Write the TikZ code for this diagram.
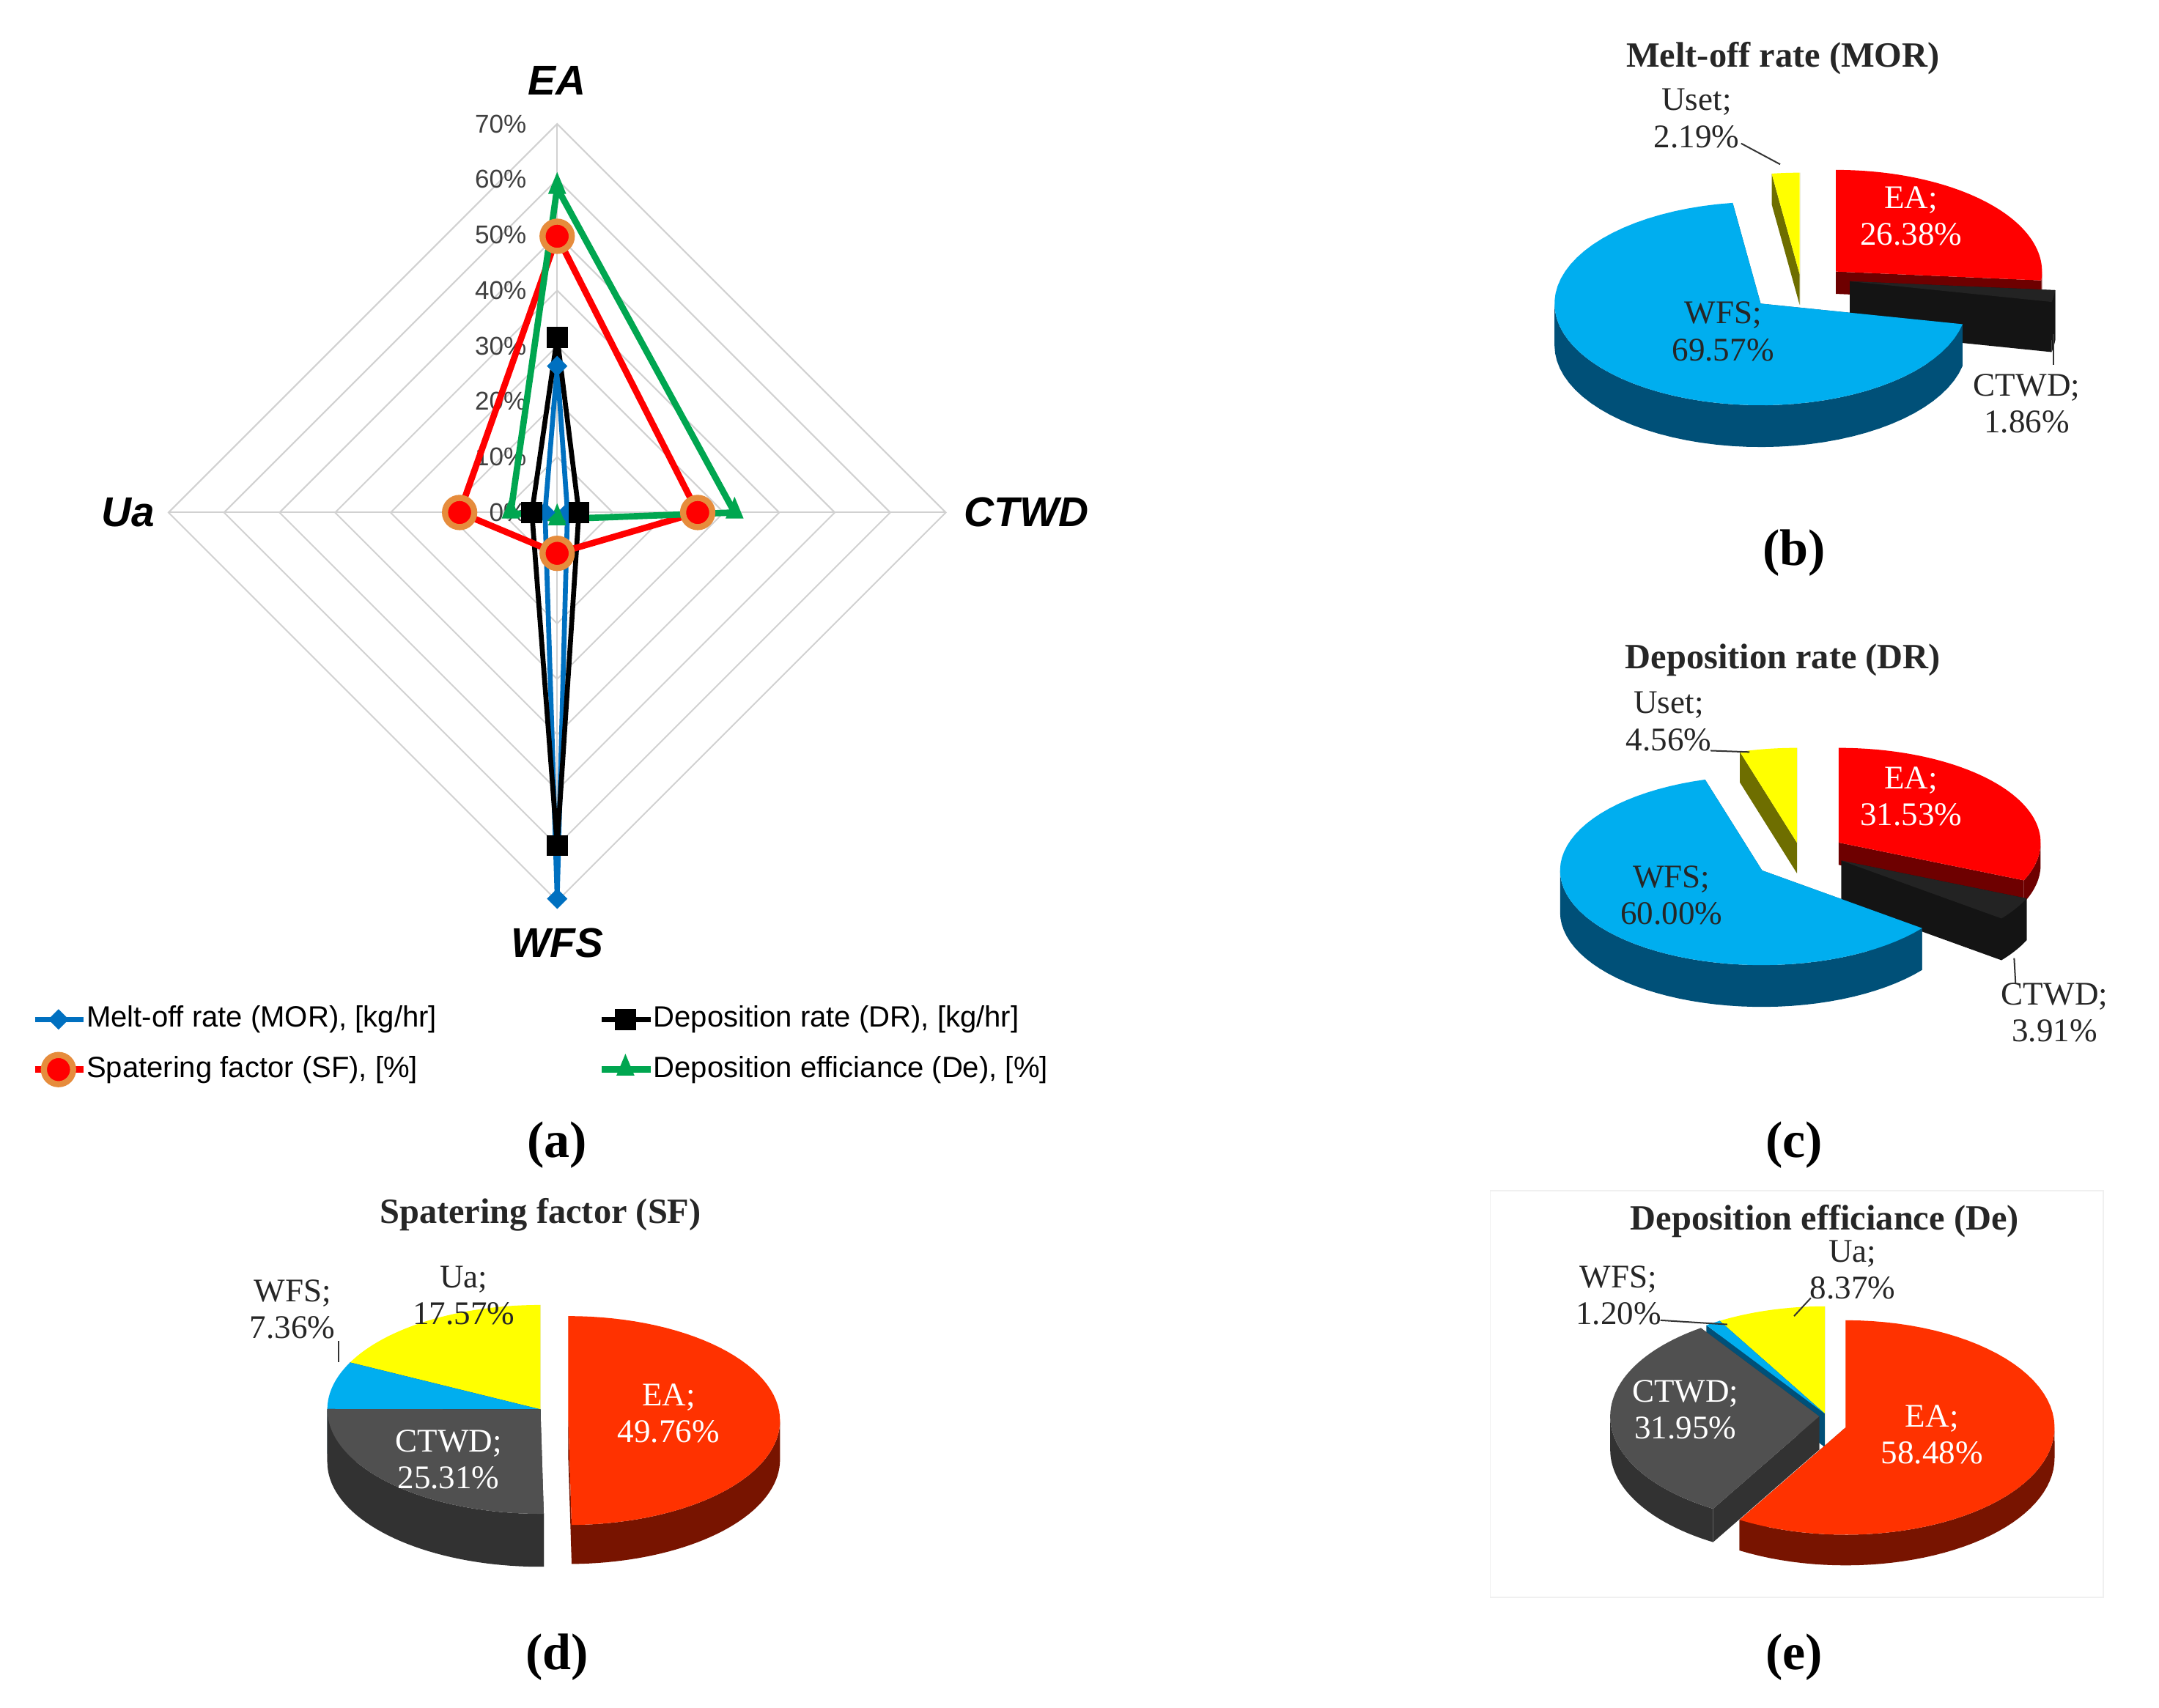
\documentclass[tikz,border=0pt]{standalone}
\usepackage{fontspec}
\setmainfont{Liberation Serif}
\newfontfamily\sff{Liberation Sans}
\usetikzlibrary{shapes.geometric}
\definecolor{mblue}{RGB}{0,112,192}
\definecolor{mgreen}{RGB}{0,166,80}
\definecolor{morange}{RGB}{230,140,60}
\definecolor{pblue}{RGB}{0,174,239}
\definecolor{pblueS}{RGB}{0,80,120}
\definecolor{pred}{RGB}{255,0,0}
\definecolor{predS}{RGB}{110,0,0}
\definecolor{pred2}{RGB}{255,50,0}
\definecolor{pred2S}{RGB}{120,20,0}
\definecolor{pdark}{RGB}{35,35,35}
\definecolor{pdarkS}{RGB}{20,20,20}
\definecolor{pgrey}{RGB}{80,80,80}
\definecolor{pgreyS}{RGB}{50,50,50}
\definecolor{pyel}{RGB}{255,255,0}
\definecolor{pyelS}{RGB}{110,110,0}
\newcommand{\myslice}[9]{%
 \pgfmathsetmacro{\ta}{90-#6}\pgfmathsetmacro{\tb}{90-#7}%
 \pgfmathsetmacro{\lo}{max(\tb,-180)}\pgfmathsetmacro{\hi}{min(\ta,0)}%
 \fill[#9] (#1,#2) -- ({#1+#3*cos(\ta)},{#2-#4*sin(\ta)}) -- ({#1+#3*cos(\ta)},{#2-#4*sin(\ta)+#5}) -- (#1,#2+#5) -- cycle;
 \fill[#9] (#1,#2) -- ({#1+#3*cos(\tb)},{#2-#4*sin(\tb)}) -- ({#1+#3*cos(\tb)},{#2-#4*sin(\tb)+#5}) -- (#1,#2+#5) -- cycle;
 \pgfmathparse{\lo<\hi?1:0}%
 \ifnum\pgfmathresult=1
 \fill[#9] plot[domain=\lo:\hi,samples=40] ({#1+#3*cos(\x)},{#2-#4*sin(\x)}) -- plot[domain=\hi:\lo,samples=40] ({#1+#3*cos(\x)},{#2-#4*sin(\x)+#5}) -- cycle;
 \fi
 \fill[#8] (#1,#2) -- plot[domain=\ta:\tb,samples=60] ({#1+#3*cos(\x)},{#2-#4*sin(\x)}) -- cycle;
}
\begin{document}
\begin{tikzpicture}[x=0.02cm,y=-0.02cm,
 grid/.style={draw=black!18,line width=0.6pt},
 axl/.style={font=\sff\bfseries\itshape\fontsize{17}{20}\selectfont},
 tick/.style={font=\sff\fontsize{10.5}{12}\selectfont,text=black!75,anchor=east,inner sep=1pt},
 leg/.style={font=\sff\fontsize{12}{14}\selectfont,anchor=west,inner sep=1pt},
 plab/.style={font=\bfseries\fontsize{21}{24}\selectfont},
 ptitle/.style={font=\bfseries\fontsize{14.5}{17}\selectfont,text=black!85},
 pl/.style={font=\fontsize{13.5}{15}\selectfont,align=center,text=black!85},
 plw/.style={font=\fontsize{13.5}{15}\selectfont,align=center,text=white},
 sB/.style={mblue,line width=2pt},
 sK/.style={black,line width=2pt},
 sR/.style={pred,line width=2.6pt},
 sG/.style={mgreen,line width=2.6pt},
 mB/.style={diamond,fill=mblue,inner sep=0,minimum size=0.3cm},
 mK/.style={rectangle,fill=black,inner sep=0,minimum size=0.3cm},
 mR/.style={circle,fill=pred,draw=morange,line width=2.5pt,inner sep=0,minimum size=0.42cm},
 mG/.style={isosceles triangle,shape border rotate=90,fill=mgreen,inner sep=0,minimum size=0.26cm},
 lead/.style={draw=black!80,line width=0.6pt}]
\useasboundingbox (0,0) rectangle (1550,1226);
\fill[white] (0,0) rectangle (1550,1226);
% radar grid
\foreach \k in {1,...,7}{
 \draw[grid] (400,{368-39.86*\k}) -- ({400+39.86*\k},368) -- (400,{368+39.86*\k}) -- ({400-39.86*\k},368) -- cycle;}
\draw[grid] (400,89) -- (400,647) (121,368) -- (679,368);
\foreach \k in {0,...,7}{\node[tick] (t\k) at (380,{368-39.86*\k}) {\pgfmathparse{int(10*\k)}\pgfmathresult\%};}
\node[axl] (lEA) at (400,58) {EA};
\node[axl] (lUa) at (92,368) {Ua};
\node[axl] (lCT) at (737,368) {CTWD};
\node[axl] (lWF) at (400,677) {WFS};
\def\sc{3.986}
\newcommand{\series}[6]{%
 \coordinate (#1e) at (400,{368-#2*\sc});
 \coordinate (#1c) at ({400+#3*\sc},368);
 \coordinate (#1w) at (400,{368+#4*\sc});
 \coordinate (#1u) at ({400-#5*\sc},368);
 \draw[#6,line join=round] (#1e) -- (#1c) -- (#1w) -- (#1u) -- cycle;}
\series{B}{26.38}{1.86}{69.57}{2.19}{sB}
\series{K}{31.53}{3.91}{60.00}{4.56}{sK}
\series{R}{49.76}{25.31}{7.36}{17.57}{sR}
\series{G}{58.48}{31.95}{1.20}{8.37}{sG}
\foreach \p in {e,c,w,u}{
 \node[mB] (mB\p) at (B\p) {};
 \node[mK] (mK\p) at (K\p) {};
 \node[mR] (mR\p) at (R\p) {};
 \node[mG] (mG\p) at (G\p) {};}
% legend
\coordinate (l1a) at (25,732); \coordinate (l1b) at (60,732);
\draw[sB] (l1a) -- (l1b); \node[mB] (l1m) at (42,732) {};
\node[leg] (l1t) at (60,732) {Melt-off rate (MOR), [kg/hr]};
\coordinate (l2a) at (432,732); \coordinate (l2b) at (467,732);
\draw[sK] (l2a) -- (l2b); \node[mK] (l2m) at (449,732) {};
\node[leg] (l2t) at (467,732) {Deposition rate (DR), [kg/hr]};
\coordinate (l3a) at (25,768); \coordinate (l3b) at (60,768);
\draw[sR] (l3a) -- (l3b); \node[mR] (l3m) at (42,768) {};
\node[leg] (l3t) at (60,768) {Spatering factor (SF), [\%]};
\coordinate (l4a) at (432,768); \coordinate (l4b) at (467,768);
\draw[sG] (l4a) -- (l4b); \node[mG] (l4m) at (449,768) {};
\node[leg] (l4t) at (467,768) {Deposition efficiance (De), [\%]};
% panel labels
\node[plab] (pa) at (400,822) {(a)};
\node[plab] (pb) at (1288,397) {(b)};
\node[plab] (pc) at (1288,822) {(c)};
\node[plab] (pd) at (400,1190) {(d)};
\node[plab] (pe) at (1288,1190) {(e)};
% pie b
\node[ptitle] (tb) at (1280,42) {Melt-off rate (MOR)};
\myslice{1292}{197}{148}{73}{22}{352.2}{360}{pyel}{pyelS}
\myslice{1318}{195}{148}{73}{16}{0}{95}{pred}{predS}
\myslice{1328}{202}{148}{73}{36}{95}{101.7}{pdark}{pdarkS}
\myslice{1264}{218}{148}{73}{30}{101.7}{352.2}{pblue}{pblueS}
\node[plw] (b1) at (1372,155) {EA;\\26.38\%};
\node[pl] (b2) at (1237,238) {WFS;\\69.57\%};
\node[pl] (b3) at (1455,290) {CTWD;\\1.86\%};
\node[pl] (b4) at (1218,85) {Uset;\\2.19\%};
\coordinate (b4a) at (1250,103); \coordinate (b4b) at (1278,118);
\draw[lead] (b4a) -- (b4b);
\coordinate (b3a) at (1474,240); \coordinate (b3b) at (1474,262);
\draw[lead] (b3a) -- (b3b);
% pie c
\node[ptitle] (tc) at (1280,474) {Deposition rate (DR)};
\myslice{1290}{605}{145}{68}{22}{343.6}{360}{pyel}{pyelS}
\myslice{1320}{605}{145}{68}{16}{0}{113.5}{pred}{predS}
\myslice{1322}{618}{145}{68}{30}{113.5}{127.6}{pdark}{pdarkS}
\myslice{1265}{625}{145}{68}{30}{127.6}{343.6}{pblue}{pblueS}
\node[plw] (c1) at (1372,572) {EA;\\31.53\%};
\node[pl] (c2) at (1200,643) {WFS;\\60.00\%};
\node[pl] (c3) at (1475,727) {CTWD;\\3.91\%};
\node[pl] (c4) at (1198,518) {Uset;\\4.56\%};
\coordinate (c4a) at (1228,539); \coordinate (c4b) at (1256,540);
\draw[lead] (c4a) -- (c4b);
\coordinate (c3a) at (1446,688); \coordinate (c3b) at (1447,706);
\draw[lead] (c3a) -- (c3b);
% pie d
\node[ptitle] (td) at (388,872) {Spatering factor (SF)};
\myslice{388}{1012}{153}{75}{32}{296.7}{360}{pyel}{pyelS}
\myslice{388}{1012}{153}{75}{32}{270.2}{296.7}{pblue}{pblueS}
\myslice{388}{1012}{153}{75}{38}{179.1}{270.2}{pgrey}{pgreyS}
\myslice{408}{1020}{152}{75}{28}{0}{179.1}{pred2}{pred2S}
\node[plw] (d1) at (480,1015) {EA;\\49.76\%};
\node[plw] (d2) at (322,1048) {CTWD;\\25.31\%};
\node[pl] (d3) at (210,940) {WFS;\\7.36\%};
\node[pl] (d4) at (333,930) {Ua;\\17.57\%};
\coordinate (d3a) at (243,963); \coordinate (d3b) at (243,978);
\draw[lead] (d3a) -- (d3b);
% pie e
\draw[black!6] (1070,855) rectangle (1510,1147);
\node[ptitle] (te) at (1310,877) {Deposition efficiance (De)};
\myslice{1310}{1015}{150}{77}{24}{329.8}{360}{pyel}{pyelS}
\myslice{1310}{1015}{150}{77}{24}{325.5}{329.8}{pblue}{pblueS}
\myslice{1306}{1017}{150}{77}{24}{210.5}{325.5}{pgrey}{pgreyS}
\myslice{1325}{1025}{150}{77}{22}{0}{210.5}{pred2}{pred2S}
\node[plw] (e1) at (1387,1030) {EA;\\58.48\%};
\node[plw] (e2) at (1210,1012) {CTWD;\\31.95\%};
\node[pl] (e3) at (1162,930) {WFS;\\1.20\%};
\node[pl] (e4) at (1330,912) {Ua;\\8.37\%};
\coordinate (e3a) at (1192,948); \coordinate (e3b) at (1240,951);
\draw[lead] (e3a) -- (e3b);
\coordinate (e4a) at (1300,932); \coordinate (e4b) at (1288,945);
\draw[lead] (e4a) -- (e4b);
\end{tikzpicture}
\end{document}
